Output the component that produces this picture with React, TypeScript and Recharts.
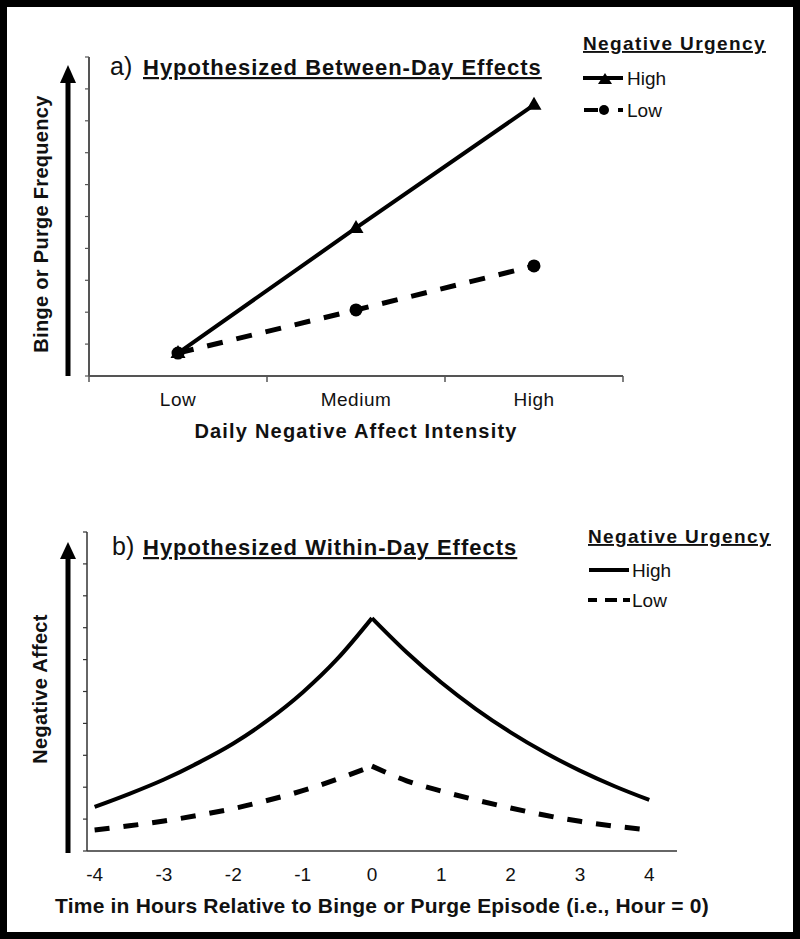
import React from "react";
import { Label, Legend, Line, LineChart, XAxis, YAxis } from "recharts";

const FONT = "'Liberation Sans', Arial, Helvetica, sans-serif";

// a) between-day effects
const categories = ["Low", "Medium", "High"];
const highUrgencyFreq = [0.72, 4.64, 8.5];
const lowUrgencyFreq = [0.72, 2.07, 3.45];

// b) within-day effects
const hours = [-4, -3.5, -3, -2.5, -2, -1.5, -1, -0.5, 0, 0.5, 1, 1.5, 2, 2.5, 3, 3.5, 4];
const highUrgencyAffect = [1.38, 1.79, 2.24, 2.77, 3.37, 4.1, 4.97, 6.02, 7.3, 6.23, 5.28, 4.45, 3.72, 3.08, 2.52, 2.03, 1.6];
const lowUrgencyAffect = [0.66, 0.79, 0.94, 1.12, 1.33, 1.59, 1.89, 2.25, 2.66, 2.2, 1.88, 1.6, 1.35, 1.12, 0.93, 0.78, 0.66];
const hourTicks = [-4, -3, -2, -1, 0, 1, 2, 3, 4];
const levelTicks = [0, 1, 2, 3, 4, 5, 6, 7, 8, 9, 10];
const bandTicks = [0, 0.5, 1, 1.5, 2, 2.5, 3];

const betweenRows = categories.map((c, i) => ({
  pos: i + 0.5,
  high: highUrgencyFreq[i],
  low: lowUrgencyFreq[i],
}));

// split at hour 0 so the peak stays sharp
const withinRows = hours.map((h, i) => ({
  hour: h,
  highRise: h <= 0 ? highUrgencyAffect[i] : null,
  highFall: h >= 0 ? highUrgencyAffect[i] : null,
  lowRise: h <= 0 ? lowUrgencyAffect[i] : null,
  lowFall: h >= 0 ? lowUrgencyAffect[i] : null,
}));

const AXIS_TOP = "#555";
const AXIS_BOTTOM = "#333";

const NoLabel = () => <g />;

function CategoryTick(props: any) {
  const { x, y, payload } = props;
  const v = payload.value;
  if (Number.isInteger(v)) {
    return <line x1={x} x2={x} y1={y} y2={y + 6} stroke={AXIS_TOP} strokeWidth={1.5} />;
  }
  return (
    <text x={x} y={y + 30} textAnchor="middle" fontSize={19} letterSpacing={0.5} fill="#111">
      {categories[Math.floor(v)]}
    </text>
  );
}

function TriangleDot(props: any) {
  const { cx, cy, index } = props;
  if (cx == null || cy == null) return null;
  return (
    <polygon
      key={`tri-${index}`}
      points={`${cx},${cy - 8} ${cx - 7.5},${cy + 5} ${cx + 7.5},${cy + 5}`}
      fill="#000"
    />
  );
}

function CircleDot(props: any) {
  const { cx, cy, index } = props;
  if (cx == null || cy == null) return null;
  return <circle key={`dot-${index}`} cx={cx} cy={cy} r={6.5} fill="#000" />;
}

const legendTitle = {
  fontSize: 19,
  fontWeight: "bold" as const,
  letterSpacing: 1.4,
  textDecoration: "underline",
};

function BetweenLegend() {
  return (
    <svg width={220} height={100} style={{ overflow: "visible", fontFamily: FONT }}>
      <text x={3} y={22} style={legendTitle} fill="#111">Negative Urgency</text>
      <line x1={3} x2={43} y1={50} y2={50} stroke="#000" strokeWidth={4} />
      <polygon points="25,45 18,56 32,56" fill="#000" />
      <text x={47} y={57} fontSize={19} fill="#111">High</text>
      <line x1={4} x2={18} y1={82} y2={82} stroke="#000" strokeWidth={4} />
      <circle cx={24} cy={82} r={5} fill="#000" />
      <line x1={38} x2={43} y1={82} y2={82} stroke="#000" strokeWidth={4} />
      <text x={47} y={89} fontSize={19} fill="#111">Low</text>
    </svg>
  );
}

function WithinLegend() {
  return (
    <svg width={220} height={100} style={{ overflow: "visible", fontFamily: FONT }}>
      <text x={3} y={23} style={legendTitle} fill="#111">Negative Urgency</text>
      <line x1={4} x2={44} y1={50} y2={50} stroke="#000" strokeWidth={4} />
      <text x={47} y={57} fontSize={19} fill="#111">High</text>
      <line x1={3} x2={45} y1={80} y2={80} stroke="#000" strokeWidth={4} strokeDasharray="9 8 12 6 7" />
      <text x={47} y={87} fontSize={19} fill="#111">Low</text>
    </svg>
  );
}

function BetweenDayChart() {
  return (
    <LineChart
      width={800}
      height={470}
      data={betweenRows}
      margin={{ top: 57, right: 177, bottom: 24, left: 79 }}
    >
      <XAxis
        type="number"
        dataKey="pos"
        domain={[0, 3]}
        ticks={bandTicks}
        interval={0}
        tickLine={false}
        tickSize={0}
        tickMargin={0}
        tick={<CategoryTick />}
        height={70}
        axisLine={{ stroke: AXIS_TOP, strokeWidth: 2 }}
      >
        <Label
          value="Daily Negative Affect Intensity"
          position="insideBottom"
          offset={8}
          fontSize={20}
          fontWeight="bold"
          fill="#111"
          style={{ letterSpacing: 1.2 }}
        />
      </XAxis>
      <YAxis
        type="number"
        domain={[0, 10]}
        ticks={levelTicks}
        interval={0}
        tick={NoLabel}
        tickSize={4}
        width={10}
        axisLine={{ stroke: AXIS_TOP, strokeWidth: 2 }}
        tickLine={{ stroke: AXIS_TOP, strokeWidth: 1.2 }}
      />
      <Legend
        layout="vertical"
        align="center"
        verticalAlign="middle"
        wrapperStyle={{ top: 28, left: 580, width: 220 }}
        content={() => <BetweenLegend />}
      />
      <Line
        dataKey="high"
        type="linear"
        stroke="#000"
        strokeWidth={4}
        dot={TriangleDot}
        activeDot={false}
        isAnimationActive={false}
      />
      <Line
        dataKey="low"
        type="linear"
        stroke="#000"
        strokeWidth={5}
        strokeDasharray="16 14"
        dot={CircleDot}
        activeDot={false}
        isAnimationActive={false}
      />
    </LineChart>
  );
}

function WithinDayChart() {
  return (
    <LineChart
      width={800}
      height={469}
      data={withinRows}
      margin={{ top: 62, right: 123, bottom: 18, left: 77 }}
    >
      <XAxis
        type="number"
        dataKey="hour"
        domain={[-4.11, 4.4]}
        ticks={hourTicks}
        interval={0}
        tickLine={false}
        tickSize={0}
        tickMargin={17}
        tick={{ fontSize: 19, fill: "#111" }}
        height={70}
        axisLine={{ stroke: AXIS_BOTTOM, strokeWidth: 1.5 }}
      >
        <Label
          value="Time in Hours Relative to Binge or Purge Episode (i.e., Hour = 0)"
          position="insideBottom"
          offset={8}
          fontSize={21}
          fontWeight="bold"
          fill="#111"
          style={{ letterSpacing: 0.2 }}
        />
      </XAxis>
      <YAxis
        type="number"
        domain={[0, 10]}
        ticks={levelTicks}
        interval={0}
        tick={NoLabel}
        tickSize={4}
        width={10}
        axisLine={{ stroke: AXIS_BOTTOM, strokeWidth: 1.5 }}
        tickLine={{ stroke: AXIS_BOTTOM, strokeWidth: 1.2 }}
      />
      <Legend
        layout="vertical"
        align="center"
        verticalAlign="middle"
        wrapperStyle={{ top: 50, left: 585, width: 220 }}
        content={() => <WithinLegend />}
      />
      <Line dataKey="highRise" type="monotone" stroke="#000" strokeWidth={4} dot={false} activeDot={false} isAnimationActive={false} />
      <Line dataKey="highFall" type="monotone" stroke="#000" strokeWidth={4} dot={false} activeDot={false} isAnimationActive={false} />
      <Line dataKey="lowRise" type="monotone" stroke="#000" strokeWidth={5} strokeDasharray="15 14" dot={false} activeDot={false} isAnimationActive={false} />
      <Line dataKey="lowFall" type="monotone" stroke="#000" strokeWidth={5} strokeDasharray="15 14" dot={false} activeDot={false} isAnimationActive={false} />
    </LineChart>
  );
}

function Decorations() {
  return (
    <svg
      width={800}
      height={939}
      style={{ position: "absolute", top: 0, left: 0, pointerEvents: "none", fontFamily: FONT }}
    >
      <rect x={3.5} y={3.5} width={793} height={932} fill="none" stroke="#000" strokeWidth={7} />

      {/* panel a */}
      <polygon points="68,65 60,83 76,83" fill="#000" />
      <rect x={65.5} y={82} width={5} height={294} fill="#000" />
      <text x={110} y={75} fontSize={25} fill="#111">a)</text>
      <text x={143} y={75} fontSize={22} fontWeight="bold" letterSpacing={1} textDecoration="underline" fill="#111">
        Hypothesized Between-Day Effects
      </text>
      <text
        transform="translate(48,224) rotate(-90)"
        textAnchor="middle"
        fontSize={20}
        fontWeight="bold"
        letterSpacing={0.3}
        fill="#111"
      >
        Binge or Purge Frequency
      </text>

      {/* panel b */}
      <polygon points="68,542 60,559 76,559" fill="#000" />
      <rect x={65.5} y={558} width={5} height={295} fill="#000" />
      <text x={112} y={555} fontSize={25} fill="#111">b)</text>
      <text x={143} y={555} fontSize={22} fontWeight="bold" letterSpacing={1} textDecoration="underline" fill="#111">
        Hypothesized Within-Day Effects
      </text>
      <text
        transform="translate(47,689) rotate(-90)"
        textAnchor="middle"
        fontSize={20}
        fontWeight="bold"
        letterSpacing={0.3}
        fill="#111"
      >
        Negative Affect
      </text>
    </svg>
  );
}

export default function App() {
  return (
    <div
      style={{
        position: "absolute",
        top: 0,
        left: 0,
        width: 800,
        height: 939,
        background: "#fff",
        fontFamily: FONT,
        overflow: "hidden",
      }}
    >
      <div style={{ position: "absolute", top: 0, left: 0 }}>
        <BetweenDayChart />
      </div>
      <div style={{ position: "absolute", top: 470, left: 0 }}>
        <WithinDayChart />
      </div>
      <Decorations />
    </div>
  );
}
